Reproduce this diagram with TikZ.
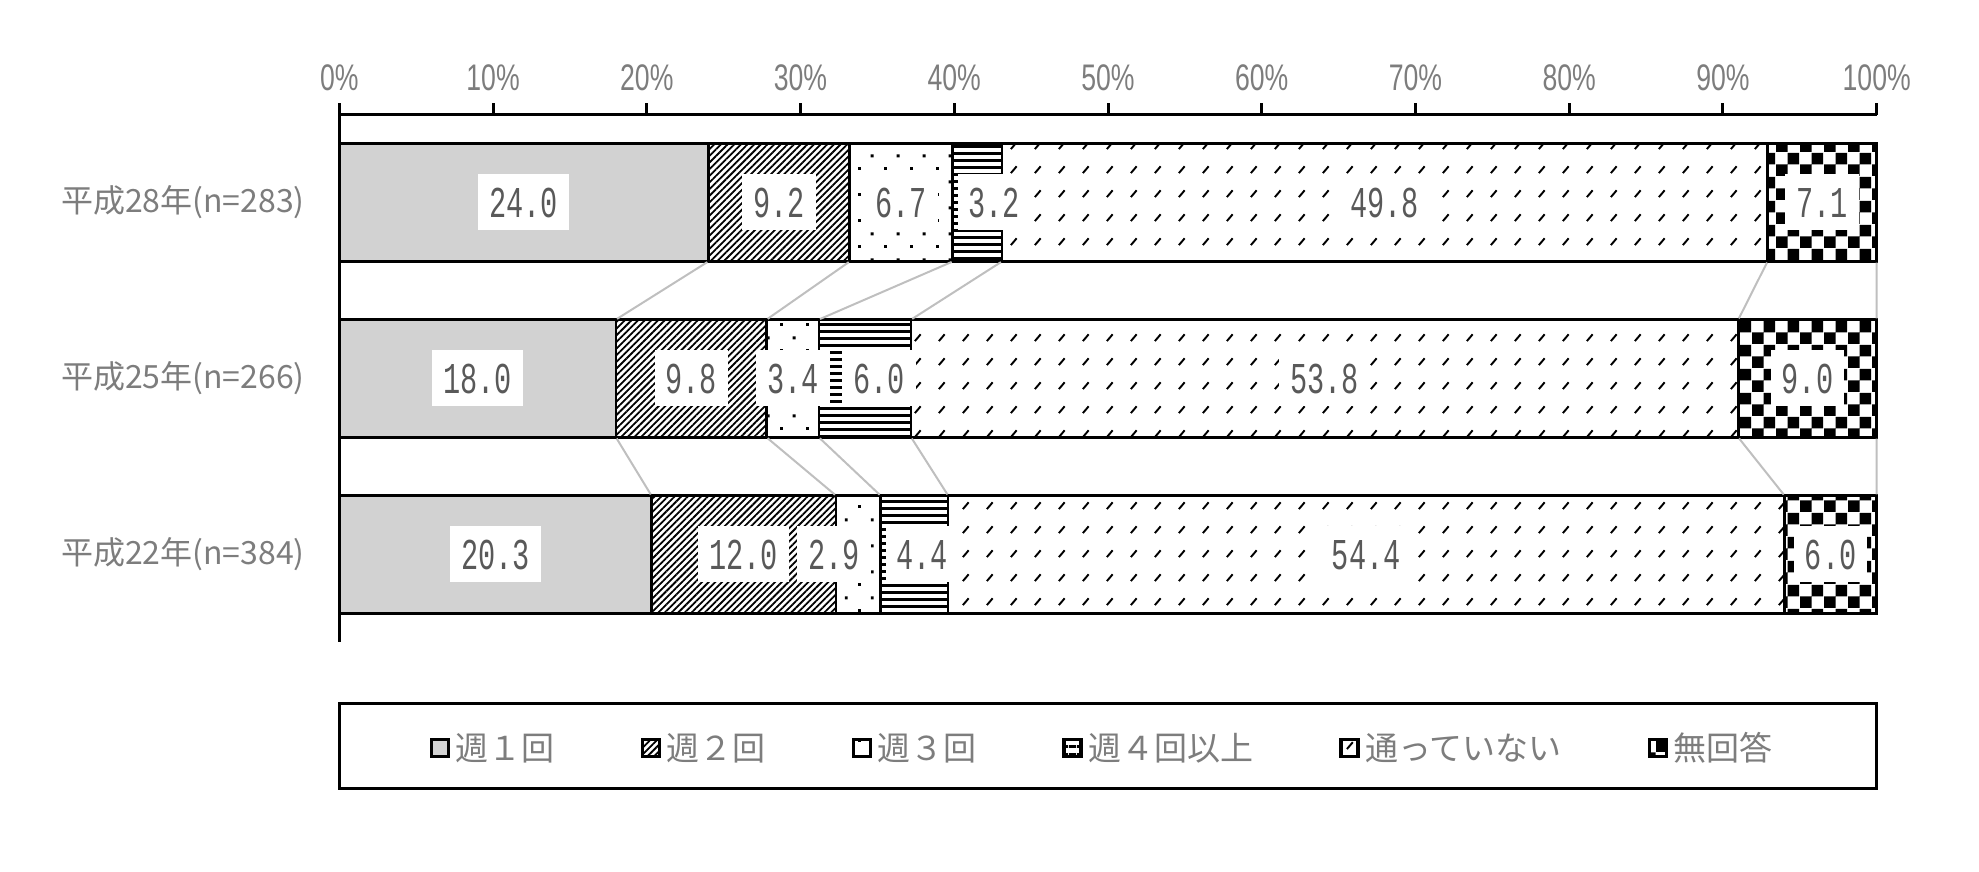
\documentclass[tikz,border=0pt]{standalone}
\usepackage{fontspec}
\setmainfont{Noto Sans CJK JP}
\newfontfamily\valfont[FakeStretch=0.65]{Liberation Mono}
\newfontfamily\tickfont[FakeStretch=0.72]{Liberation Sans}
\usetikzlibrary{positioning,patterns,patterns.meta}

\definecolor{barfill}{RGB}{210,210,210}
\definecolor{labgray}{RGB}{125,125,125}
\definecolor{valgray}{RGB}{89,89,89}
\definecolor{linkgray}{RGB}{191,191,191}

\pgfdeclarepatternformonly{sparsedots}{\pgfqpoint{0pt}{0pt}}{\pgfqpoint{26pt}{26pt}}{\pgfqpoint{26pt}{26pt}}{%
  \pgfpathrectangle{\pgfqpoint{0pt}{0pt}}{\pgfqpoint{3pt}{3pt}}%
  \pgfpathrectangle{\pgfqpoint{13pt}{13pt}}{\pgfqpoint{3pt}{3pt}}%
  \pgfusepath{fill}}
\pgfdeclarepatternformonly{slashes}{\pgfqpoint{0pt}{0pt}}{\pgfqpoint{24pt}{24pt}}{\pgfqpoint{24pt}{24pt}}{%
  \pgfsetlinewidth{2pt}%
  \pgfpathmoveto{\pgfqpoint{3pt}{3pt}}\pgfpathlineto{\pgfqpoint{9pt}{10pt}}%
  \pgfusepath{stroke}}
\pgfdeclarepatternformonly{bigcheck}{\pgfqpoint{0pt}{0pt}}{\pgfqpoint{24pt}{24pt}}{\pgfqpoint{24pt}{24pt}}{%
  \pgfpathrectangle{\pgfqpoint{0pt}{0pt}}{\pgfqpoint{12pt}{12pt}}%
  \pgfpathrectangle{\pgfqpoint{12pt}{12pt}}{\pgfqpoint{12pt}{12pt}}%
  \pgfusepath{fill}}

\tikzset{
  seg/.style={draw=black, line width=2.5pt, inner sep=0pt, outer sep=0pt,
    minimum height=118pt, minimum width=#1*15.374pt, anchor=west},
  wk1/.style={fill=barfill},
  wk2/.style={pattern={Lines[angle=45,distance=4.7pt,line width=1.8pt]}},
  wk3/.style={pattern=sparsedots},
  wk4/.style={pattern={Lines[angle=0,distance=7.4pt,line width=3pt]}},
  notgo/.style={pattern=slashes},
  noans/.style={pattern=bigcheck},
  val/.style={fill=white, text=valgray, font=\valfont\fontsize{44}{44}\selectfont,
    inner xsep=11pt, inner ysep=0pt, minimum height=56pt, text height=30pt, text depth=0pt},
  cat/.style={text=labgray, font=\fontsize{32}{36}\selectfont, anchor=east, inner sep=0pt},
  ticklab/.style={text=labgray, font=\tickfont\fontsize{37}{40}\selectfont, inner sep=0pt},
  axisline/.style={draw=black, line width=3pt},
  link/.style={draw=linkgray, line width=2pt, shorten >=1.2pt, shorten <=1.2pt},
  legkey/.style={draw=black, line width=3.5pt, minimum size=17pt, inner sep=0pt},
  legtext/.style={text=labgray, font=\fontsize{33}{36}\selectfont, inner sep=0pt},
}

\begin{document}
\begin{tikzpicture}[x=1pt,y=1pt]
	\useasboundingbox (0,0) rectangle (1979,872);

	% axis
	\coordinate (O) at (339.3,757);
	\coordinate (E) at (1876.7,757);
	\coordinate (Obot) at (339.3,230);
	\draw[axisline] (E) -- (O) -- (Obot);
	\foreach \t in {0,...,10}{
		\pgfmathtruncatemacro\pct{10*\t}
		\draw[axisline] (339.3+153.74*\t,757) -- ++(0,12);
		\node[ticklab] (tick\t) at (339.3+153.74*\t,794) {\pct\%};
	}

	% categories
	\node[cat] (c28) at (305,669.5) {平成28年(n=283)};
	\node[cat] (c25) at (305,493.5) {平成25年(n=266)};
	\node[cat] (c22) at (305,317.5) {平成22年(n=384)};

	% H28
	\node[seg=24.0, wk1] (T1) at (339.3,669.5) {};
	\node[seg=9.2, wk2, right=0pt of T1] (T2) {};
	\node[seg=6.7, wk3, right=0pt of T2] (T3) {};
	\node[seg=3.2, wk4, right=0pt of T3] (T4) {};
	\node[seg=49.8, notgo, right=0pt of T4] (T5) {};
	\node[seg=7.1, noans, right=0pt of T5] (T6) {};

	% H25
	\node[seg=18.0, wk1] (M1) at (339.3,493.5) {};
	\node[seg=9.8, wk2, right=0pt of M1] (M2) {};
	\node[seg=3.4, wk3, right=0pt of M2] (M3) {};
	\node[seg=6.0, wk4, right=0pt of M3] (M4) {};
	\node[seg=53.8, notgo, right=0pt of M4] (M5) {};
	\node[seg=9.0, noans, right=0pt of M5] (M6) {};

	% H22
	\node[seg=20.3, wk1] (B1) at (339.3,317.5) {};
	\node[seg=12.0, wk2, right=0pt of B1] (B2) {};
	\node[seg=2.9, wk3, right=0pt of B2] (B3) {};
	\node[seg=4.4, wk4, right=0pt of B3] (B4) {};
	\node[seg=54.4, notgo, right=0pt of B4] (B5) {};
	\node[seg=6.0, noans, right=0pt of B5] (B6) {};

	% series lines
	\draw[link] (T1.south east) -- (M1.north east);
	\draw[link] (T2.south east) -- (M2.north east);
	\draw[link] (T3.south east) -- (M3.north east);
	\draw[link] (T4.south east) -- (M4.north east);
	\draw[link] (T5.south east) -- (M5.north east);
	\draw[link] (T6.south east) -- (M6.north east);
	\draw[link] (M1.south east) -- (B1.north east);
	\draw[link] (M2.south east) -- (B2.north east);
	\draw[link] (M3.south east) -- (B3.north east);
	\draw[link] (M4.south east) -- (B4.north east);
	\draw[link] (M5.south east) -- (B5.north east);
	\draw[link] (M6.south east) -- (B6.north east);

	% values
	\node[val] (vT1) at (T1) {24.0};
	\node[val] (vT2) at (T2) {9.2};
	\node[val] (vT3) at (T3) {6.7};
	\node[val, xshift=17pt] (vT4) at (T4) {3.2};
	\node[val] (vT5) at (T5) {49.8};
	\node[val] (vT6) at (T6) {7.1};
	\node[val] (vM1) at (M1) {18.0};
	\node[val] (vM2) at (M2) {9.8};
	\node[val] (vM3) at (M3) {3.4};
	\node[val, xshift=14pt] (vM4) at (M4) {6.0};
	\node[val] (vM5) at (M5) {53.8};
	\node[val] (vM6) at (M6) {9.0};
	\node[val] (vB1) at (B1) {20.3};
	\node[val] (vB2) at (B2) {12.0};
	\node[val, xshift=-24pt] (vB3) at (B3) {2.9};
	\node[val, xshift=8pt] (vB4) at (B4) {4.4};
	\node[val] (vB5) at (B5) {54.4};
	\node[val] (vB6) at (B6) {6.0};

	% legend
	\node[draw=black, line width=3pt, minimum width=1537.4pt, minimum height=85pt, inner sep=0pt] (legend) at (1108,125.5) {};
	\node[legkey, wk1] (k1) at (440,124) {};
	\node[legtext, right=5pt of k1] (n1) {週１回};
	\node[legkey, wk2, right=86pt of n1] (k2) {};
	\node[legtext, right=5pt of k2] (n2) {週２回};
	\node[legkey, wk3, right=86pt of n2] (k3) {};
	\node[legtext, right=5pt of k3] (n3) {週３回};
	\node[legkey, wk4, right=86pt of n3] (k4) {};
	\node[legtext, right=5pt of k4] (n4) {週４回以上};
	\node[legkey, notgo, right=86pt of n4] (k5) {};
	\node[legtext, right=5pt of k5] (n5) {通っていない};
	\node[legkey, noans, right=86pt of n5] (k6) {};
	\node[legtext, right=5pt of k6] (n6) {無回答};
\end{tikzpicture}
\end{document}
